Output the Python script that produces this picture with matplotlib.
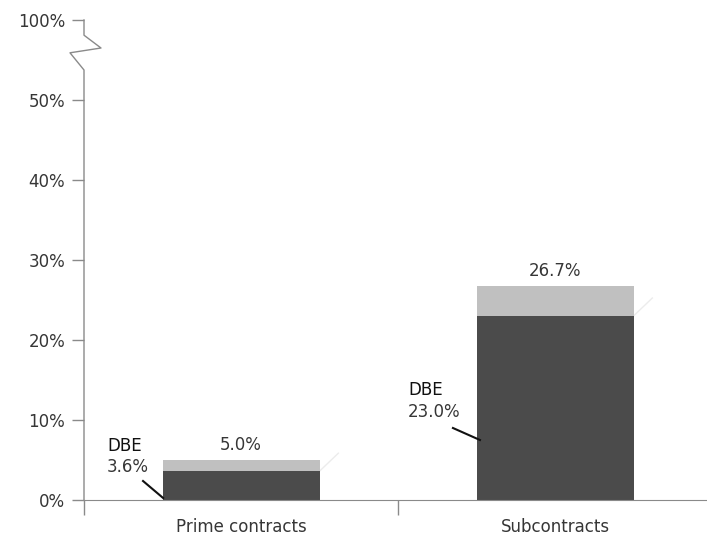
import matplotlib
matplotlib.use("Agg")
import matplotlib.pyplot as plt

# datos
categorias = ["Prime contracts", "Subcontracts"]
dbe = [3.6, 23.0]
total = [5.0, 26.7]
ticks_y = [0, 10, 20, 30, 40, 50, 60]
etiquetas_y = ["0%", "10%", "20%", "30%", "40%", "50%", "100%"]

oscuro = "#4b4b4b"
claro = "#c0c0c0"
gris_eje = "#8a8a8a"
texto = "#363636"
fs = 12

fig = plt.figure(figsize=(7.07, 5.37), dpi=100)
ax = fig.add_axes([84 / 707, 37 / 537, 1 - 84 / 707, 490 / 537])

x = list(range(len(categorias)))
resto = [t - d for t, d in zip(total, dbe)]
ax.bar(x, dbe, width=0.5, color=oscuro, zorder=2)
ax.bar(x, resto, width=0.5, bottom=dbe, color=claro, zorder=2)

# sombra tenue en la esquina de cada barra
for xi, d in zip(x, dbe):
    ax.plot([xi + 0.25, xi + 0.31], [d, d + 2.25], color="#ececec", lw=1, zorder=1)

# valores totales
for xi, t in zip(x, total):
    ax.text(xi, t + 1.9, f"{t:.1f}%", ha="center", va="center", fontsize=fs, color=texto)

# etiquetas DBE con linea guia
pos_dbe = [(-0.427, 6.75, 4.1, (-0.312, -0.248), (2.375, 0.25)),
           (0.532, 13.75, 11.0, (0.675, 0.761), (9.0, 7.5))]
for (tx, y1, y2, lx, ly), d in zip(pos_dbe, dbe):
    ax.text(tx, y1, "DBE", ha="left", va="center", fontsize=fs, color="#111111")
    ax.text(tx, y2, f"{d:.1f}%", ha="left", va="center", fontsize=fs, color=texto)
    ax.plot(lx, ly, color="#111111", lw=1.5, zorder=3)

ax.set_xlim(-0.5, -0.5 + 623 / 314)
ax.set_ylim(0, 61.25)

# eje y con corte
ax.spines[["left", "top", "right"]].set_visible(False)
ax.spines["bottom"].set_color(gris_eje)
ax.plot([-0.5, -0.5, -0.5446, -0.4459, -0.5, -0.5],
        [0, 53.75, 55.9, 56.5, 58.1, 60], color=gris_eje, lw=1, clip_on=False)

ax.set_yticks(ticks_y)
ax.set_yticklabels(etiquetas_y)
ax.tick_params(axis="y", length=8.6, width=1, color=gris_eje, pad=5,
               labelsize=fs, labelcolor=texto)

ax.set_xticks(x)
ax.set_xticklabels(categorias)
ax.tick_params(axis="x", which="major", length=0, pad=13, labelsize=fs, labelcolor=texto)
ax.set_xticks([-0.5, 0.5], minor=True)
ax.tick_params(axis="x", which="minor", length=10.8, width=1, color=gris_eje)

fig.savefig("out.png", dpi=100)
